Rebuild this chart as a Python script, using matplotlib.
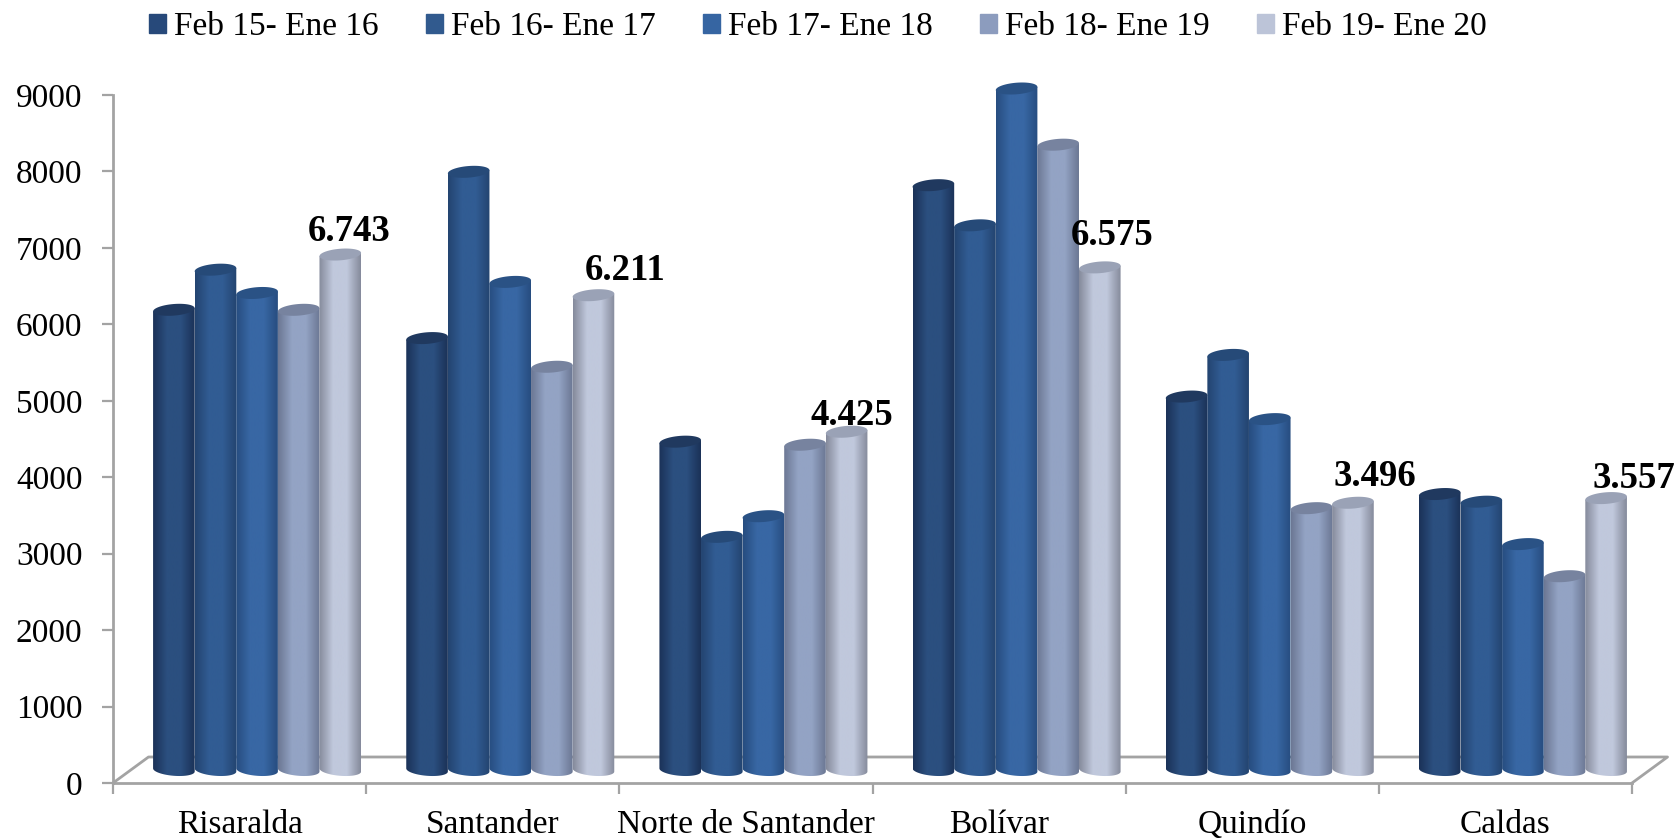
import matplotlib
matplotlib.use('Agg')
import matplotlib.pyplot as plt
import numpy as np
from matplotlib.patches import Patch, PathPatch
from matplotlib.path import Path
from matplotlib.colors import LinearSegmentedColormap

categories = ['Risaralda', 'Santander', 'Norte de Santander', 'Bolívar', 'Quindío', 'Caldas']
periods = ['Feb 15- Ene 16', 'Feb 16- Ene 17', 'Feb 17- Ene 18', 'Feb 18- Ene 19', 'Feb 19- Ene 20']

feb15 = [6020, 5650, 4295, 7650, 4885, 3610]
feb16 = [6545, 7825, 3050, 7125, 5430, 3510]
feb17 = [6240, 6385, 3320, 8915, 4590, 2955]
feb18 = [6020, 5275, 4255, 8180, 3425, 2535]
feb19 = [6743, 6211, 4425, 6575, 3496, 3557]
last_labels = ['6.743', '6.211', '4.425', '6.575', '3.496', '3.557']
series = [feb15, feb16, feb17, feb18, feb19]

# nudges of the value labels in pixels, the original places them by hand
label_dx = [8.5, 31.5, 5.5, 12, 22, 28]
label_dy = [5.6, 7.7, -0.8, 14, 8.8, 2.4]

# edge / middle / top cap colour of each cylinder
edge_cols = ['#1b3258', '#234470', '#274d80', '#6c7894', '#868b9c']
mid_cols = ['#2b4f7f', '#315c93', '#3867a4', '#93a3c4', '#c0c8dc']
cap_cols = ['#20395f', '#264a78', '#2a5285', '#77839f', '#9aa2b6']
legend_cols = ['#27497a', '#315a8e', '#3665a2', '#8c9cbe', '#bcc4d8']
axis_col = '#a3a3a3'

W, H = 1677, 839
x0, x1, y0, y9 = 113, 1632, 783, 95
px_x = 6 / (x1 - x0)
px_y = 9000 / (y0 - y9)

bar_w = 41.6 * px_x
dx = 17.5 * px_x
base = 13 * px_y
cap_h = 5.8 * px_y
tilt = 1.6 * px_y


def cylinder(cx, val):
    t = np.linspace(np.pi, 2 * np.pi, 40)
    xs = cx + bar_w / 2 * np.cos(t)
    low = base + cap_h * np.sin(t) - tilt * np.cos(t)
    top = val + base + tilt * np.cos(t[::-1])
    return xs, low, top


plt.rcParams['font.family'] = ['Liberation Serif', 'DejaVu Serif']

fig = plt.figure(figsize=(W / 100, H / 100), dpi=100)
ax = fig.add_axes([x0 / W, 1 - y0 / H, (x1 - x0) / W, (y0 - y9) / H])
ax.set_xlim(0, 6)
ax.set_ylim(0, 9000)

for s in ['top', 'right']:
    ax.spines[s].set_visible(False)
for s in ['left', 'bottom']:
    ax.spines[s].set_color(axis_col)
    ax.spines[s].set_linewidth(2)

# floor of the 3d box
back = 26 * px_y
off = 35.5 * px_x
ax.plot([0, off, 6 + off, 6], [0, back, back, 0], color=axis_col, lw=2, clip_on=False, zorder=1)

ax.set_yticks(np.arange(0, 9001, 1000))
ax.set_xticks(np.arange(0, 7))
ax.set_xticklabels([])
ax.set_xticks(np.arange(6) + 0.5, minor=True)
ax.set_xticklabels(categories, minor=True)
ax.tick_params(axis='x', which='major', length=8, width=1.6, color=axis_col)
ax.tick_params(axis='x', which='minor', length=0, pad=19, labelsize=24)
ax.tick_params(axis='y', length=8, width=1.6, color=axis_col, labelsize=24, pad=14)

for j, vals in enumerate(series):
    cmap = LinearSegmentedColormap.from_list('c', [edge_cols[j], mid_cols[j], mid_cols[j], edge_cols[j]])
    grad = cmap(np.linspace(0, 1, 64))[None, :, :3]
    for i, v in enumerate(vals):
        cx = i + 0.5 + dx + (j - 2) * bar_w
        xs, low, top = cylinder(cx, v)
        verts = np.r_[np.c_[xs, low], np.c_[xs[::-1], top], [[xs[0], low[0]]]]
        body = PathPatch(Path(verts), fc='none', ec='none', zorder=3 + j, clip_on=False)
        ax.add_patch(body)
        im = ax.imshow(grad, extent=[cx - bar_w / 2, cx + bar_w / 2, 0, v + 2 * base],
                       aspect='auto', zorder=3 + j, interpolation='bilinear')
        im.set_clip_box(fig.bbox)
        im.set_clip_path(body)
        t = np.linspace(0, 2 * np.pi, 60)
        ax.fill(cx + bar_w / 2 * np.cos(t),
                v + base + cap_h * np.sin(t) + tilt * np.cos(t),
                color=cap_cols[j], lw=0, zorder=3 + j, clip_on=False)
        if j == 4:
            ax.text(cx + label_dx[i] * px_x, v + base + label_dy[i] * px_y, last_labels[i],
                    ha='center', va='bottom', fontsize=26.5, fontweight='bold', color='black',
                    zorder=10, clip_on=False)

ax.set_xlim(0, 6)
ax.set_ylim(0, 9000)

handles = [Patch(color=c) for c in legend_cols]
fig.legend(handles, periods, ncol=5, frameon=False, fontsize=24, loc='center left',
           bbox_to_anchor=(149 / W, 1 - 27 / H), handlelength=0.51, handleheight=0.51,
           handletextpad=0.24, columnspacing=1.42, borderpad=0, borderaxespad=0)

fig.savefig('out.png', dpi=100)
